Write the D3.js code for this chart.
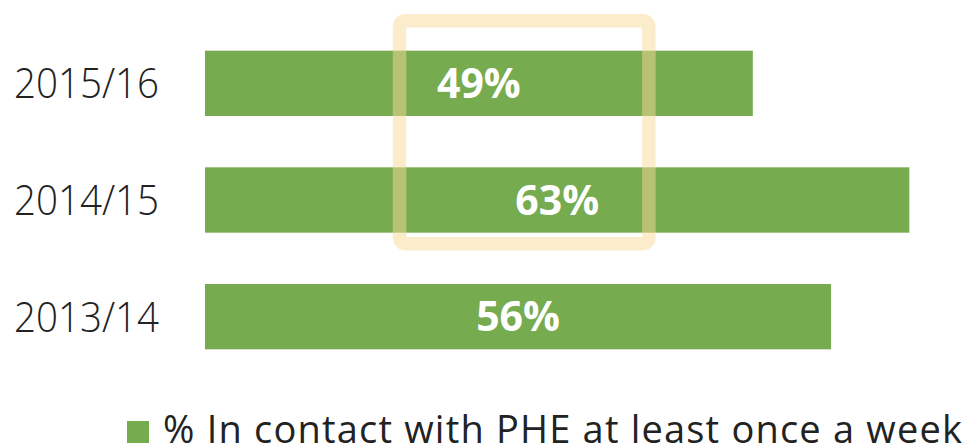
<!DOCTYPE html>
<html>
<head>
<meta charset="utf-8">
<script src="https://cdn.jsdelivr.net/npm/d3@7"></script>
<style>
  html, body { margin: 0; padding: 0; background: #fff; }
  svg { display: block; font-family: "Open Sans", "Noto Sans", sans-serif; }
</style>
</head>
<body>
<div id="graph"></div>
<script>
const years = ["2015/16", "2014/15", "2013/14"];
const values = [49, 63, 56];
const seriesName = "% In contact with PHE at least once a week";
const highlighted = ["2015/16", "2014/15"];

const width = 968;
const height = 447;
const green = "#76ab50";

const x = d3.scaleLinear()
            .domain([0, 100])
            .range([205, 205 + 1118]);

const y = d3.scaleBand()
            .domain(years)
            .range([25, 375])
            .paddingInner(0.44)
            .paddingOuter(0.22);

const svg = d3.create("svg")
              .attr("width", width)
              .attr("height", height)
              .attr("viewBox", `0 0 ${width} ${height}`);

// bars
svg.selectAll(".bar")
   .data(years)
   .enter()
   .append("rect")
   .attr("class", "bar")
   .attr("x", x(0))
   .attr("y", d => y(d))
   .attr("width", (d, i) => x(values[i]) - x(0))
   .attr("height", y.bandwidth())
   .attr("fill", green);

// value labels
svg.selectAll(".val")
   .data(years)
   .enter()
   .append("text")
   .attr("class", "val")
   .attr("x", (d, i) => (x(0) + x(values[i])) / 2)
   .attr("y", d => y(d) + y.bandwidth() / 2)
   .attr("dy", "0.36em")
   .attr("text-anchor", "middle")
   .attr("fill", "#fff")
   .attr("font-weight", 700)
   .attr("font-size", 41)
   .text((d, i) => values[i] + "%");

// category labels
const yAxis = d3.axisLeft(y).tickSize(0).tickPadding(0);
svg.append("g")
   .attr("transform", `translate(159, 0)`)
   .call(yAxis)
   .call(g => g.select(".domain").remove())
   .call(g => g.selectAll("text")
     .attr("font-family", "'Open Sans', sans-serif")
     .attr("font-size", 42)
     .attr("font-weight", 300)
     .attr("fill", "#222")
     .attr("textLength", 145)
     .attr("lengthAdjust", "spacingAndGlyphs")
     .attr("dy", "0.36em"));

// highlight box
const hy0 = y(highlighted[0]);
const hy1 = y(highlighted[1]) + y.bandwidth();
svg.append("rect")
   .attr("x", x(17.4))
   .attr("y", hy0 - 30)
   .attr("width", x(39.7) - x(17.4))
   .attr("height", hy1 - hy0 + 41)
   .attr("rx", 6)
   .attr("fill", "none")
   .attr("stroke", "#f8d99a")
   .attr("stroke-opacity", 0.5)
   .attr("stroke-width", 13.5);

// legend
const legend = svg.append("g").attr("transform", "translate(127, 421)");
legend.append("rect")
      .attr("width", 22)
      .attr("height", 22)
      .attr("fill", green);
legend.append("text")
      .attr("x", 36)
      .attr("y", 21.5)
      .attr("font-size", 38)
      .attr("fill", "#222")
      .attr("textLength", 799)
      .attr("lengthAdjust", "spacing")
      .text(seriesName);

d3.select("#graph").append(() => svg.node());
</script>
</body>
</html>
